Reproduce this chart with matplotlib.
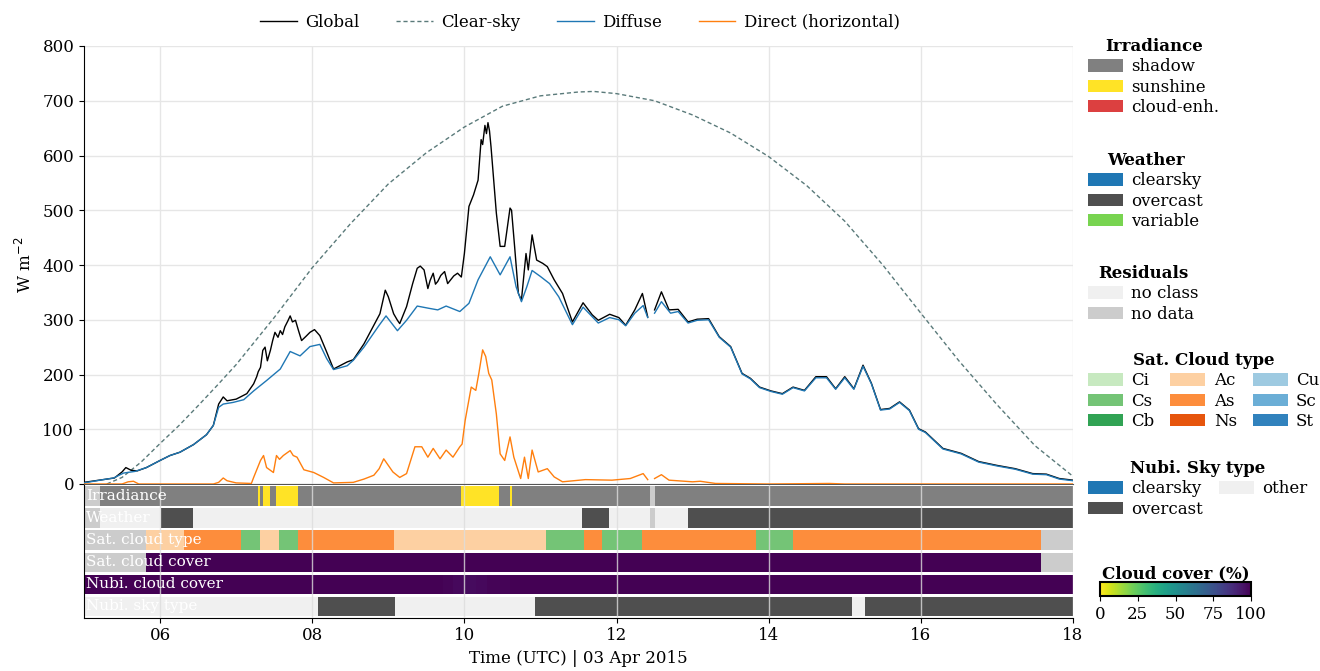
import numpy as np
import matplotlib
matplotlib.use("Agg")
import matplotlib.pyplot as plt
from matplotlib.patches import Patch
import matplotlib as mpl

plt.rcParams['font.family'] = 'DejaVu Serif'
plt.rcParams['font.size'] = 12

nan = np.nan

# --- irradiance time series (hours UTC, W m-2) ---
clear_t = [5.3, 5.5, 5.75, 6.0, 6.25, 6.5, 6.75, 7.0, 7.5, 8.0, 8.5, 9.0, 9.5, 10.0, 10.5,
           11.0, 11.5, 11.7, 12.0, 12.5, 13.0, 13.5, 14.0, 14.5, 15.0, 15.5, 16.0, 16.5,
           17.0, 17.5, 18.0]
clear_v = [0, 12, 40, 74, 107, 143, 180, 218, 304, 395, 475, 548, 605, 652, 690,
           709, 716, 717, 713, 700, 674, 641, 598, 545, 480, 400, 312, 225,
           145, 70, 14]

glob_t = [5.0, 5.2, 5.4, 5.5, 5.55, 5.62, 5.7, 5.82, 6.0, 6.13, 6.26, 6.44, 6.61, 6.7, 6.77,
          6.83, 6.88, 7.0, 7.14, 7.23, 7.27, 7.29, 7.32, 7.35, 7.38, 7.41, 7.45, 7.48, 7.51,
          7.55, 7.58, 7.61, 7.64, 7.68, 7.71, 7.74, 7.78, 7.82, 7.86, 7.92, 7.97, 8.03, 8.1,
          8.19, 8.28, 8.46, 8.54, 8.68, 8.89, 8.96, 9.0, 9.07, 9.12, 9.15, 9.24, 9.32, 9.38,
          9.42, 9.47, 9.52, 9.55, 9.59, 9.62, 9.65, 9.69, 9.74, 9.78, 9.82, 9.86, 9.91, 9.96,
          10.0, 10.06, 10.12, 10.18, 10.22, 10.24, 10.27, 10.29, 10.31, 10.33, 10.35, 10.42,
          10.47, 10.53, 10.6, 10.62, 10.66, 10.71, 10.75, 10.81, 10.84, 10.89, 10.95, 11.03,
          11.09, 11.18, 11.29, 11.42, 11.56, 11.68, 11.76, 11.91, 12.03, 12.12, 12.24, 12.34,
          12.41, 12.45, 12.5, 12.59, 12.69, 12.81, 12.94, 13.06, 13.21, 13.35, 13.5, 13.65,
          13.76, 13.88, 14.03, 14.18, 14.32, 14.47, 14.62, 14.76, 14.88, 15.0, 15.12, 15.24,
          15.35, 15.47, 15.59, 15.72, 15.85, 15.97, 16.06, 16.29, 16.53, 16.76, 17.0, 17.24,
          17.47, 17.65, 17.82, 18.0]
glob_v = [3, 7, 11, 22, 30, 25, 24, 30, 43, 52, 58, 72, 90, 107, 146,
          159, 152, 155, 165, 183, 196, 205, 213, 244, 250, 225, 244, 262, 277,
          268, 280, 273, 287, 298, 307, 296, 299, 280, 262, 270, 277, 282, 271,
          241, 210, 223, 227, 256, 311, 354, 342, 311, 299, 293, 324, 366, 394,
          398, 391, 357, 372, 385, 365, 370, 381, 388, 366, 373, 380, 385, 378,
          421, 507, 528, 555, 629, 620, 655, 640, 660, 645, 616, 495,
          434, 434, 504, 500, 434, 348, 336, 421, 391, 455, 409, 403,
          397, 373, 348, 296, 331, 309, 299, 310, 304, 290, 318, 348,
          305, nan, 318, 351, 318, 319, 296, 301, 302, 269, 251, 202,
          193, 177, 170, 165, 177, 171, 196, 196, 174, 196, 174, 217,
          184, 136, 138, 150, 135, 101, 95, 65, 56, 41, 34, 28,
          19, 18, 10, 7]

diff_t = [5.0, 5.21, 5.39, 5.52, 5.67, 5.82, 6.0, 6.13, 6.26, 6.44, 6.61, 6.7, 6.77, 6.83,
          6.96, 7.1, 7.23, 7.4, 7.58, 7.71, 7.84, 7.97, 8.1, 8.19, 8.28, 8.46, 8.54, 8.68,
          8.88, 8.97, 9.12, 9.24, 9.38, 9.53, 9.65, 9.76, 9.94, 10.06, 10.18, 10.34, 10.47,
          10.6, 10.68, 10.75, 10.82, 10.89, 11.0, 11.12, 11.24, 11.42, 11.56, 11.76, 11.91,
          12.03, 12.12, 12.24, 12.35, 12.41, 12.45, 12.5, 12.59, 12.71, 12.81, 12.94, 13.06,
          13.21, 13.35, 13.5, 13.65, 13.76, 13.88, 14.03, 14.18, 14.32, 14.47, 14.62, 14.76,
          14.88, 15.0, 15.12, 15.24, 15.35, 15.47, 15.59, 15.72, 15.85, 15.97, 16.06, 16.29,
          16.53, 16.76, 17.0, 17.24, 17.47, 17.65, 17.82, 18.0]
diff_v = [2, 7, 11, 20, 23, 30, 43, 52, 58, 72, 90, 107, 140, 146,
          149, 154, 170, 189, 210, 242, 234, 251, 255, 229, 209, 216, 226, 250,
          290, 307, 280, 299, 325, 321, 318, 325, 315, 330, 373, 415, 382,
          415, 360, 333, 360, 390, 379, 366, 342, 291, 323, 294, 304,
          300, 289, 312, 326, 304, nan, 312, 333, 312, 315, 294, 299,
          300, 268, 250, 201, 192, 176, 169, 164, 176, 170, 194, 194,
          173, 194, 173, 215, 183, 135, 137, 149, 134, 100, 94, 64,
          55, 40, 33, 27, 18, 17, 9, 6]

dir_t = [5.0, 5.5, 5.58, 5.65, 5.72, 6.7, 6.77, 6.83, 6.88, 7.0, 7.2, 7.23, 7.32, 7.36,
         7.4, 7.49, 7.53, 7.57, 7.62, 7.66, 7.71, 7.75, 7.8, 7.89, 8.02, 8.15, 8.28, 8.54,
         8.68, 8.81, 8.88, 8.94, 9.06, 9.15, 9.24, 9.35, 9.44, 9.52, 9.59, 9.68, 9.76, 9.85,
         9.94, 9.97, 10.01, 10.09, 10.15, 10.19, 10.24, 10.28, 10.32, 10.36, 10.42, 10.47,
         10.53, 10.6, 10.65, 10.74, 10.79, 10.84, 10.89, 10.97, 11.09, 11.18, 11.29, 11.59,
         11.94, 12.18, 12.35, 12.41, 12.45, 12.5, 12.59, 12.69, 13.0, 13.1, 13.3, 14.0, 14.8,
         15.0, 18.0]
dir_v = [0, 0, 4, 5, 0, 0, 3, 11, 6, 2, 1, 12, 43, 52,
         30, 21, 52, 45, 52, 56, 61, 52, 49, 26, 21, 12, 2, 3,
         9, 16, 28, 46, 22, 12, 19, 68, 68, 49, 65, 46, 62, 49,
         68, 73, 116, 177, 171, 202, 245, 233, 202, 190, 128, 55,
         43, 86, 49, 10, 49, 10, 62, 22, 28, 13, 4, 8,
         7, 10, 19, 8, nan, 10, 17, 7, 4, 5, 1, 0, 1,
         0, 0]

# --- classification strips (start, end, class) ---
irr_segments = [(5.0, 5.21, 'no data'), (5.21, 7.29, 'shadow'), (7.29, 7.32, 'sunshine'),
                (7.32, 7.35, 'shadow'), (7.35, 7.44, 'sunshine'), (7.44, 7.53, 'shadow'),
                (7.53, 7.81, 'sunshine'), (7.81, 9.96, 'shadow'), (9.96, 10.46, 'sunshine'),
                (10.46, 10.6, 'shadow'), (10.6, 10.62, 'sunshine'), (10.62, 12.44, 'shadow'),
                (12.44, 12.51, 'no data'), (12.51, 18.0, 'shadow')]
weather_segments = [(5.0, 5.21, 'no data'), (5.21, 6.01, 'no class'), (6.01, 6.43, 'overcast'),
                    (6.43, 11.55, 'no class'), (11.55, 11.9, 'overcast'), (11.9, 12.44, 'no class'),
                    (12.44, 12.51, 'no data'), (12.51, 12.94, 'no class'), (12.94, 18.0, 'overcast')]
sat_type_segments = [(5.0, 5.82, 'no data'), (5.82, 6.32, 'Ac'), (6.32, 7.07, 'As'),
                     (7.07, 7.31, 'Cs'), (7.31, 7.56, 'Ac'), (7.56, 7.81, 'Cs'),
                     (7.81, 9.08, 'As'), (9.08, 11.07, 'Ac'), (11.07, 11.57, 'Cs'),
                     (11.57, 11.81, 'As'), (11.81, 12.33, 'Cs'), (12.33, 13.83, 'As'),
                     (13.83, 14.32, 'Cs'), (14.32, 17.58, 'As'), (17.58, 18.0, 'no data')]
sat_cover_segments = [(5.0, 5.82, nan), (5.82, 17.58, 100), (17.58, 18.0, nan)]
nubi_cover_segments = [(5.0, 9.72, 100), (9.72, 9.85, 99), (9.85, 10.0, 98), (10.0, 10.15, 97),
                       (10.15, 10.3, 98), (10.3, 10.6, 99), (10.6, 18.0, 100)]
nubi_sky_segments = [(5.0, 8.08, 'other'), (8.08, 9.09, 'overcast'), (9.09, 10.93, 'other'),
                     (10.93, 15.09, 'overcast'), (15.09, 15.27, 'other'), (15.27, 18.0, 'overcast')]

strip_names = ['Irradiance', 'Weather', 'Sat. cloud type', 'Sat. cloud cover',
               'Nubi. cloud cover', 'Nubi. sky type']

# colours
colors = {
    'shadow': '#808080', 'sunshine': '#ffe326', 'cloud-enh.': '#dc4040',
    'clearsky': '#1f77b4', 'overcast': '#4f4f4f', 'variable': '#78d450',
    'no class': '#f0f0f0', 'no data': '#cccccc', 'other': '#f0f0f0',
    'Ci': '#c7e9c0', 'Cs': '#74c476', 'Cb': '#31a354',
    'Ac': '#fdd0a2', 'As': '#fd8d3c', 'Ns': '#e6550d',
    'Cu': '#9ecae1', 'Sc': '#6baed6', 'St': '#3182bd',
}
cmap = plt.get_cmap('viridis_r')

fig = plt.figure(figsize=(13.2, 6.71), dpi=100)
W, H = 1320, 671
ax = fig.add_axes([84 / W, 1 - 484 / H, 989 / W, 438 / H])
ax2 = fig.add_axes([84 / W, 1 - 617.5 / H, 989 / W, 132.5 / H], sharex=ax)

l_glob, = ax.plot(glob_t, glob_v, color='black', lw=1.0, zorder=3)
l_clear, = ax.plot(clear_t, clear_v, color='#5a7a7a', lw=1.0, ls=(0, (3, 2)), zorder=2)
l_diff, = ax.plot(diff_t, diff_v, color='#1f77b4', lw=1.0, zorder=4)
l_dir, = ax.plot(dir_t, dir_v, color='#ff7f0e', lw=1.0, zorder=5)

ax.set_xlim(5, 18)
ax.set_ylim(0, 800)
ax.set_yticks(range(0, 801, 100))
ax.set_ylabel('W m$^{-2}$', labelpad=5)
ax.grid(True, color='#e6e6e6', lw=1.0)
ax.set_axisbelow(True)
for s in ['top', 'right']:
    ax.spines[s].set_visible(False)
ax.spines['bottom'].set_color('#555555')
ax.tick_params(axis='x', bottom=False, labelbottom=False)

# strips
rows = [irr_segments, weather_segments, sat_type_segments]
for i, segs in enumerate(rows):
    y = 5 - i
    for a, b, c in segs:
        ax2.barh(y, b - a, left=a, height=0.88, color=colors[c], lw=0)
for i, segs in [(3, sat_cover_segments), (4, nubi_cover_segments)]:
    y = 5 - i
    for a, b, v in segs:
        col = colors['no data'] if np.isnan(v) else cmap(v / 100)
        ax2.barh(y, b - a, left=a, height=0.88, color=col, lw=0)
for a, b, c in nubi_sky_segments:
    ax2.barh(0, b - a, left=a, height=0.88, color=colors[c], lw=0)
for i, name in enumerate(strip_names):
    ax2.text(5.03, 5 - i, name, color='white', va='center', ha='left', fontsize=11, zorder=6)

ax2.set_ylim(-0.5, 5.5)
ax2.set_yticks([])
ax2.set_xticks([6, 8, 10, 12, 14, 16, 18])
ax2.set_xticklabels(['06', '08', '10', '12', '14', '16', '18'])
ax2.grid(True, axis='x', color='#dddddd', lw=1.0, alpha=0.8)
ax2.set_axisbelow(False)
for s in ['top', 'right']:
    ax2.spines[s].set_visible(False)
ax2.set_xlabel('Time (UTC) | 03 Apr 2015')

# top legend
fig.legend([l_glob, l_clear, l_diff, l_dir],
           ['Global', 'Clear-sky', 'Diffuse', 'Direct (horizontal)'],
           loc='upper center', bbox_to_anchor=(580 / W, 1 - 2 / H), ncol=4, frameon=False,
           handlelength=2.2, handletextpad=0.5, columnspacing=2.2, borderaxespad=0.3)

# right legends
def side_legend(title, labels, y_top, ncol=1):
    handles = [Patch(facecolor=colors[l], edgecolor='none') for l in labels]
    leg = fig.legend(handles, labels, title=title, loc='upper left',
                     bbox_to_anchor=(1088 / W, 1 - y_top / H), ncol=ncol, frameon=False,
                     borderpad=0, borderaxespad=0, handlelength=2.1, handleheight=0.75,
                     handletextpad=0.5, labelspacing=0.2, columnspacing=0.95,
                     title_fontproperties={'weight': 'bold', 'size': 12})
    return leg

side_legend('Irradiance', ['shadow', 'sunshine', 'cloud-enh.'], 38)
side_legend('Weather', ['clearsky', 'overcast', 'variable'], 152)
side_legend('Residuals', ['no class', 'no data'], 265)
side_legend('Sat. Cloud type', ['Ci', 'Cs', 'Cb', 'Ac', 'As', 'Ns', 'Cu', 'Sc', 'St'], 352, ncol=3)
side_legend('Nubi. Sky type', ['clearsky', 'overcast', 'other'], 460, ncol=2)

# cloud cover colorbar
cax = fig.add_axes([1100 / W, 1 - 596 / H, 151 / W, 14 / H])
cb = fig.colorbar(mpl.cm.ScalarMappable(norm=mpl.colors.Normalize(0, 100), cmap=cmap),
                  cax=cax, orientation='horizontal')
cb.set_ticks([0, 25, 50, 75, 100])
cb.outline.set_linewidth(1.5)
cax.set_title('Cloud cover (%)', fontweight='bold', fontsize=12, pad=2)

fig.savefig('out.png', dpi=100)
